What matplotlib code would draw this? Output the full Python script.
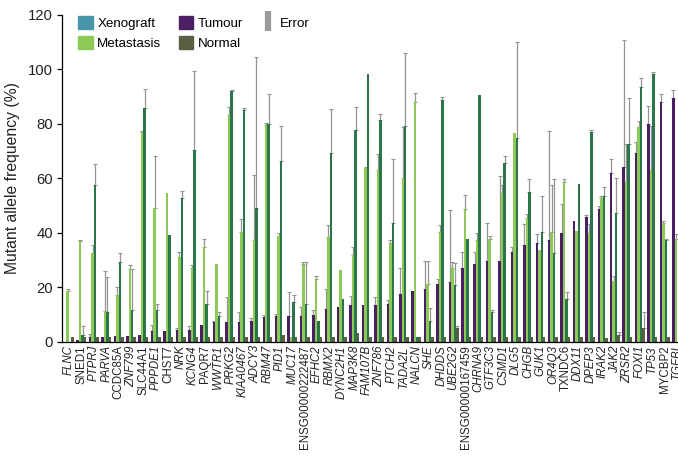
import numpy as np
import matplotlib
matplotlib.use("Agg")
import matplotlib.pyplot as plt
from matplotlib.patches import Patch
from matplotlib.lines import Line2D

plt.rcParams['font.family'] = ['Liberation Sans', 'DejaVu Sans']

genes = ["FLNC", "SNED1", "PTPRJ", "PARVA", "CCDC85A", "ZNF799", "SLC44A1", "PPPDE1",
         "CHST7", "NRK", "KCNG4", "PAQR7", "WWTR1", "PRKG2", "KIAA0467", "ADCY3",
         "RBM47", "PID1", "MUC17", "ENSG00000222487", "EFHC2", "RBMX2", "DYNC2H1",
         "MAP3K8", "FAM107B", "ZNF786", "PTCH2", "TADA2L", "NALCN", "SHE", "DHDDS",
         "UBE2G2", "ENSG00000167459", "CHRNA9", "GTF3C3", "CSMD1", "DLG5", "CHGB",
         "GUK1", "OR4Q3", "TXNDC6", "DDX11", "DPEP3", "IRAK2", "JAK2", "ZRSR2",
         "FOXI1", "TP53", "MYCBP2", "TGFBI"]

# labels set upright; all other gene symbols are italic
upright = {"SNED1", "CCDC85A", "SLC44A1", "CHST7", "PAQR7", "ENSG00000222487",
           "ENSG00000167459", "TXNDC6", "MYCBP2"}

tumour = [0, 0.5, 1.6, 1.6, 2.0, 2.2, 2.6, 3.8, 3.8, 4.2, 4.4, 6.0, 7.1, 7.1, 7.1, 7.5,
          9.0, 9.3, 9.3, 9.6, 9.9, 12.1, 12.9, 13.6, 13.6, 13.6, 14.0, 17.7, 18.8, 19.5,
          21.3, 21.8, 26.9, 28.7, 29.6, 29.8, 33.0, 35.7, 36.3, 37.2, 39.8, 44.5, 45.9,
          48.6, 61.8, 64.3, 69.4, 79.9, 88.2, 89.4]
tumour_hi = [np.nan, np.nan, 3.0, np.nan, np.nan, np.nan, np.nan, 6.0, np.nan, 5.0, 5.6,
             np.nan, 7.7, 16.4, 10.8, 8.6, 9.9, 10.2, 18.3, 12.8, 11.8, 19.4, np.nan,
             16.7, np.nan, 16.3, 15.5, 27.1, np.nan, 29.6, 23.1, 48.2, 33.0, 33.0, 43.7,
             60.9, 34.7, 43.3, 39.6, 77.4, 50.7, np.nan, 46.5, 50.0, 67.0, 110.8, 73.5,
             86.6, 90.9, 92.6]

metastasis = [18.8, 36.9, 32.4, 11.2, 17.3, 26.7, 77.0, 49.0, 54.7, 31.0, 26.9, 34.7,
              28.6, 83.3, 40.2, 37.5, 79.6, 39.0, 1.6, 28.7, 23.2, 38.5, 26.3, 32.0,
              63.7, 62.9, 36.1, 60.0, 88.1, 21.3, 40.4, 26.9, 48.6, 37.2, 37.9, 54.5,
              76.6, 45.5, 33.5, 40.4, 58.8, 40.6, 39.8, 52.9, 22.2, 58.8, 78.7, 62.9,
              43.7, 37.8]
metastasis_hi = [19.5, 37.5, 35.7, 25.9, 20.0, 28.1, 77.4, 68.2, np.nan, 33.0, 28.2,
                 37.9, np.nan, 86.3, 45.2, 61.1, 80.5, 40.0, np.nan, 29.4, 24.0, 43.0,
                 np.nan, 34.7, 64.3, 69.1, 37.2, 78.9, 91.3, 29.6, 42.8, 29.3, 53.9,
                 39.8, 39.0, 57.5, np.nan, 47.0, np.nan, 57.5, 59.9, np.nan, 43.3, 53.5,
                 24.0, 72.5, 80.9, 79.3, 44.5, 39.4]

xenograft = [0, 2.6, 57.4, 10.8, 29.2, 11.8, 85.8, 11.8, 39.1, 52.6, 70.3, 14.0, 9.6,
             92.1, 85.0, 49.0, 79.9, 66.4, 14.6, 14.0, 7.5, 69.4, 15.8, 77.7, 98.3,
             81.3, 43.7, 79.4, 1.7, 7.7, 88.7, 21.0, 37.9, 90.7, 10.9, 65.5, 75.0, 55.1,
             40.4, 32.4, 15.8, 58.0, 77.0, 53.7, 47.4, 72.5, 93.7, 98.3, 37.2, 0]
xenograft_hi = [np.nan, 5.6, 65.4, 23.8, 32.4, 26.7, 92.8, 13.9, np.nan, 55.3, 99.5,
                18.8, 10.9, 92.6, 85.8, 104.7, 90.9, 79.3, 17.2, 29.4, np.nan, 85.4,
                np.nan, 86.3, np.nan, 83.6, 67.0, 106.0, np.nan, 12.4, 89.7, 29.0,
                np.nan, np.nan, 11.8, 68.2, 110.0, 59.9, 53.5, 59.9, 18.3, np.nan, 77.7,
                56.9, 60.0, 89.4, 96.7, 99.1, 37.8, np.nan]

normal = [1.8, 1.8, 1.7, 1.7, 1.7, 1.7, 1.7, 1.7, 1.7, 1.7, 1.7, 1.7, 1.7, 1.7, 1.7,
          1.7, 1.7, 2.3, 1.7, 1.7, 1.7, 1.7, 1.7, 3.2, 1.7, 1.7, 1.7, 1.7, 1.7, 1.7,
          1.7, 4.9, 1.7, 1.7, 1.7, 1.7, 1.7, 1.7, 1.7, 1.7, 1.7, 1.7, 1.7, 1.5, 2.6,
          1.7, 5.0, 1.7, 1.7, 1.7]
normal_hi = [np.nan] * 31 + [5.9] + [np.nan] * 12 + [3.4, np.nan, 11.0] + [np.nan] * 3

C_TUMOUR = "#4b1f63"
C_MET = "#8dca55"
C_XENO = "#2c7449"
C_NORMAL = "#5b5e43"
C_XENO_KEY = "#4796aa"
C_ERR = "#949494"

fig = plt.figure(figsize=(6.78, 4.57), dpi=100)
ax = fig.add_axes([61.5 / 678, (457 - 341.7) / 457, (678 - 61.5) / 678, (341.7 - 15) / 457])

x = np.arange(len(genes))
w = 0.2
series = [(tumour, tumour_hi, C_TUMOUR, -1.5),
          (metastasis, metastasis_hi, C_MET, -0.5),
          (xenograft, xenograft_hi, C_XENO, 0.5),
          (normal, normal_hi, C_NORMAL, 1.5)]

for vals, hi, col, k in series:
    vals = np.asarray(vals, float)
    hi = np.asarray(hi, float)
    pos = x + k * w
    ax.bar(pos, vals, width=w, color=col, linewidth=0, zorder=2)
    m = ~np.isnan(hi)
    up = hi[m] - vals[m]
    ax.errorbar(pos[m], vals[m], yerr=[np.zeros_like(up), up], fmt="none",
                ecolor=C_ERR, elinewidth=0.9, capsize=1.1, capthick=0.8, zorder=1)

ax.set_xlim(-0.6, len(genes) - 1 + 0.08)
ax.set_ylim(0, 120)
ax.set_yticks([0, 20, 40, 60, 80, 100, 120])
ax.tick_params(axis="y", direction="out", length=3.6, width=0.9, pad=2.5,
               labelsize=10.7, labelcolor="#222222")
ax.set_xticks(x)
ax.set_xticklabels(genes)
ax.tick_params(axis="x", length=0, pad=2.5, labelsize=8.3, labelcolor="#222222")
for lbl in ax.get_xticklabels():
    lbl.set_rotation(90)
    lbl.set_va("top")
    lbl.set_ha("center")
    if lbl.get_text() not in upright:
        lbl.set_style("italic")

for s in ("top", "right"):
    ax.spines[s].set_visible(False)
for s in ("left", "bottom"):
    ax.spines[s].set_linewidth(0.9)

ax.set_ylabel("Mutant allele frequency (%)", fontsize=11.3, color="#222222", labelpad=6)

handles = [Patch(color=C_XENO_KEY, label="Xenograft"),
           Patch(color=C_MET, label="Metastasis"),
           Patch(color=C_TUMOUR, label="Tumour"),
           Patch(color=C_NORMAL, label="Normal"),
           Line2D([], [], color="#9a9a9a", marker="|", markersize=14,
                  markeredgewidth=4.5, linestyle="none", label="Error")]
fig.legend(handles=handles, ncol=3, loc="upper left",
           bbox_to_anchor=(78 / 678, 1 - 16 / 457), frameon=False, fontsize=9.6,
           handlelength=1.1, handleheight=1.1, handletextpad=0.35,
           columnspacing=1.3, labelspacing=0.45, borderpad=0, borderaxespad=0)

fig.savefig("out.png", dpi=100)
